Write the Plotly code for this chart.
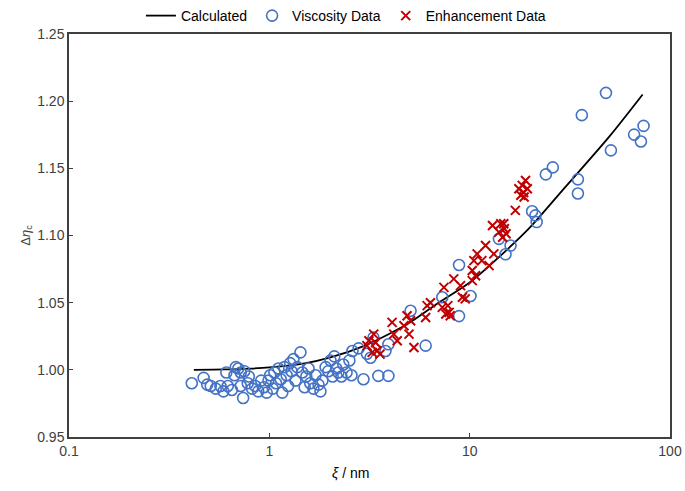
import plotly.graph_objects as go

# Calculated viscosity enhancement curve (xi in nm)
calc_xi = [0.42, 0.6, 0.8, 1.0, 1.5, 2.0, 3.0, 4.0, 5.0, 7.0, 10.0, 15.0, 20.0, 30.0, 50.0, 73.0]
calc_eta = [1.000, 1.0003, 1.0009, 1.0018, 1.0048, 1.009, 1.018, 1.027, 1.035, 1.050,
            1.065, 1.088, 1.106, 1.136, 1.174, 1.205]

# Viscosity data
visc_xi = [0.41, 0.47, 0.49, 0.51, 0.54, 0.57, 0.59, 0.61, 0.62, 0.65, 0.67, 0.68, 0.70,
           0.72, 0.72, 0.74, 0.75, 0.78, 0.79, 0.82, 0.85, 0.88, 0.91, 0.94, 0.97, 0.99,
           1.01, 1.04, 1.06, 1.08, 1.11, 1.14, 1.16, 1.19, 1.22, 1.24, 1.27, 1.29, 1.32,
           1.35, 1.38, 1.43, 1.46, 1.50, 1.53, 1.57, 1.60, 1.66, 1.70, 1.76, 1.80, 1.84,
           1.91, 1.97, 2.02, 2.07, 2.11, 2.16, 2.21, 2.29, 2.34, 2.43, 2.51, 2.57, 2.60,
           2.79, 2.95, 3.07, 3.20, 3.31, 3.50, 3.80, 3.93, 3.93,
           5.07, 6.03, 7.3, 8.85, 8.85, 10.1, 14.0, 15.1, 16.0, 20.5, 21.3, 21.6,
           24.0, 26.0, 34.7, 34.7, 36.3, 47.9, 50.7, 66.2, 71.6, 73.8]
visc_eta = [0.990, 0.994, 0.989, 0.988, 0.986, 0.988, 0.984, 0.998, 0.988, 0.985, 0.996,
            1.002, 1.001, 0.998, 0.988, 0.979, 0.999, 0.990, 0.995, 0.986, 0.988, 0.984,
            0.992, 0.987, 0.983, 0.992, 0.996, 0.986, 0.998, 0.990, 1.001, 0.993, 0.983,
            1.002, 0.996, 0.988, 1.005, 0.999, 1.008, 0.992, 1.002, 1.013, 0.998, 0.987,
            0.995, 1.001, 0.990, 0.986, 0.996, 0.989, 0.984, 0.992, 1.002, 0.999, 1.007,
            0.995, 1.010, 1.001, 0.998, 0.995, 1.004, 0.998, 1.007, 0.996, 1.014, 1.016,
            0.993, 1.012, 1.009, 1.024, 0.9955, 1.014, 1.019, 0.9955,
            1.044, 1.018, 1.054, 1.078, 1.040, 1.055, 1.0975, 1.086, 1.0925, 1.118, 1.115,
            1.110, 1.1455, 1.1507, 1.1418, 1.1313, 1.1896, 1.2062, 1.1634, 1.1751, 1.170,
            1.1816]

# Enhancement data
enh_xi = [3.07, 3.14, 3.26, 3.32, 3.39, 3.45, 3.57, 4.10, 4.18, 4.35, 4.70, 4.87, 4.98,
          5.07, 5.27, 6.03, 6.13, 6.37, 7.30, 7.44, 7.60, 7.78, 7.9, 8.0, 8.33, 9.0,
          9.2, 9.5, 10.3, 10.3, 10.5, 10.7, 10.9, 11.5, 12.0, 12.5, 13.0, 13.2, 14.0,
          14.3, 14.6, 14.8, 14.9, 15.2, 16.9, 17.6, 18.0, 18.3, 18.6, 18.7, 19.0, 19.4]
enh_eta = [1.018, 1.0216, 1.013, 1.0266, 1.0203, 1.0142, 1.0117, 1.0353, 1.0266, 1.0216,
           1.0328, 1.0403, 1.0266, 1.0366, 1.0166, 1.039, 1.0478, 1.050, 1.0465, 1.0614,
           1.0416, 1.0478, 1.0428, 1.0403, 1.0677, 1.0627, 1.054, 1.0528, 1.0739, 1.0664,
           1.0813, 1.0701, 1.0863, 1.0813, 1.0925, 1.0776, 1.1075, 1.0863, 1.1025, 1.1087,
           1.0987, 1.1087, 1.105, 1.1013, 1.1187, 1.1348, 1.1299, 1.1373, 1.132, 1.1286,
           1.141, 1.1348]

x_ticks = [0.1, 1, 10, 100]
y_ticks = [0.95, 1.00, 1.05, 1.10, 1.15, 1.20, 1.25]

fig = go.Figure()
fig.add_trace(go.Scatter(
    x=calc_xi, y=calc_eta, mode="lines", name="Calculated",
    line=dict(color="black", width=1.8, shape="spline", smoothing=0.8),
))
fig.add_trace(go.Scatter(
    x=visc_xi, y=visc_eta, mode="markers", name="Viscosity Data",
    marker=dict(symbol="circle-open", size=11, color="#4472C4",
                line=dict(width=1.6, color="#4472C4")),
))
fig.add_trace(go.Scatter(
    x=enh_xi, y=enh_eta, mode="markers", name="Enhancement Data",
    marker=dict(symbol="x-thin-open", size=9, color="#C00000",
                line=dict(width=2, color="#C00000")),
))

axis_font = dict(family="Liberation Sans, Arial, sans-serif", size=14, color="#404040")
fig.update_layout(
    width=685, height=491,
    margin=dict(l=69, r=15, t=34, b=54, autoexpand=False),
    paper_bgcolor="white", plot_bgcolor="white",
    font=dict(family="Liberation Sans, Arial, sans-serif", size=14, color="black"),
    showlegend=True,
    legend=dict(orientation="h", xref="container", yref="container",
                x=0.505, xanchor="center", y=1.0, yanchor="top",
                font=dict(size=14, color="black"), itemwidth=30,
                tracegroupgap=0, bgcolor="rgba(0,0,0,0)"),
    xaxis=dict(
        type="log", range=[-1, 2], tickvals=x_ticks, ticktext=["0.1", "1", "10", "100"],
        showline=True, linecolor="#404040", linewidth=1.5, mirror=True,
        ticks="inside", ticklen=4, tickcolor="#404040", showgrid=False, zeroline=False,
        tickfont=axis_font,
    ),
    yaxis=dict(
        range=[0.95, 1.25], tickvals=y_ticks, tickformat=".2f",
        showline=True, linecolor="#404040", linewidth=1.5, mirror=True,
        ticks="inside", ticklen=4, tickcolor="#404040", showgrid=False, zeroline=False,
        tickfont=axis_font,
        title=dict(text="Δ<i>η</i><sub>c</sub>", font=dict(size=13, color="#404040"), standoff=4),
    ),
    annotations=[dict(
        text="<i>ξ</i> / nm", xref="paper", yref="paper", x=0.469, y=-0.09,
        xanchor="center", yanchor="middle", showarrow=False,
        font=dict(size=14, color="black"),
    )],
)

fig.write_html("out.html")
